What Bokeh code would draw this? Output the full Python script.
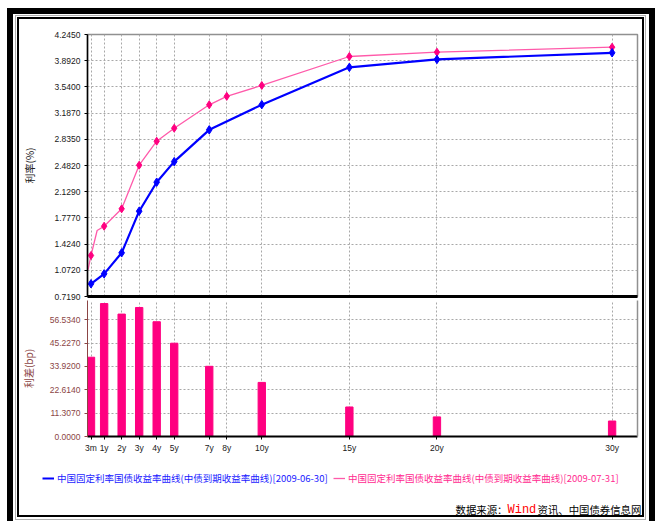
import numpy as np
from bokeh.plotting import figure
from bokeh.models import (FixedTicker, NumeralTickFormatter, LinearAxis, Range1d,
                          Label, Legend, LegendItem)
from bokeh.layouts import column
from bokeh.embed import file_html
from bokeh.resources import INLINE

# ---------------- data ----------------
tenor_labels = ["3m", "1y", "2y", "3y", "4y", "5y", "7y", "8y", "10y", "15y", "20y", "30y"]
tenor_years = [0.25, 1, 2, 3, 4, 5, 7, 8, 10, 15, 20, 30]

# 2009-06-30 curve (blue)
curve_a_x = [0.25, 1, 2, 3, 4, 5, 7, 10, 15, 20, 30]
curve_a_y = [0.890, 1.024, 1.307, 1.867, 2.257, 2.534, 2.962, 3.301, 3.803, 3.909, 3.999]

# 2009-07-31 curve (pink) - marked key tenors
curve_b_x = [0.25, 1, 2, 3, 4, 5, 7, 8, 10, 15, 20, 30]
curve_b_y = [1.271, 1.665, 1.899, 2.486, 2.809, 2.984, 3.299, 3.413, 3.559, 3.949, 4.007, 4.074]
# unmarked points
curve_b_extra_x = [0.083, 0.6]
curve_b_extra_y = [1.08, 1.607]

# spread (bp) bars
spread_x = [0.25, 1, 2, 3, 4, 5, 7, 10, 15, 20, 30]
spread_bp = [38.4, 64.4, 59.3, 62.5, 55.6, 45.2, 34.0, 26.2, 14.3, 9.5, 7.5]

rate_ticks = [0.719, 1.072, 1.424, 1.777, 2.129, 2.482, 2.835, 3.187, 3.540, 3.892, 4.245]
spread_ticks = [0.0, 11.307, 22.614, 33.92, 45.227, 56.534]

legend_a = "中国固定利率国债收益率曲线(中债到期收益率曲线)[2009-06-30]"
legend_b = "中国固定利率国债收益率曲线(中债到期收益率曲线)[2009-07-31]"
source_parts = ["数据来源：", "Wind", "资讯、中国债券信息网"]

# ---------------- styles ----------------
BLUE = "#0000FF"
PINK_LINE = "#FF5AAA"
PINK = "#FF0080"
BROWN = "#8B4545"
GRID = "#A8A8A8"
BORDER = "#909090"
TICK_FONT = "Liberation Sans"
CJK = "Noto Sans CJK SC"

X_RANGE = (0.05, 31.45)
W = 648
ML, MR = 80, 18          # left / right border around plot frames


def clear_ticks(ax):
    ax.major_tick_out = 0
    ax.major_tick_in = 0
    ax.minor_tick_out = 0
    ax.minor_tick_in = 0


def transparent(p):
    p.border_fill_alpha = 0
    p.background_fill_color = "white"


pink_pts = sorted(zip(curve_b_x + curve_b_extra_x, curve_b_y + curve_b_extra_y))
pink_line_x = [p[0] for p in pink_pts]
pink_line_y = [p[1] for p in pink_pts]

# ---------------- top panel ----------------
top = figure(width=W, height=292, x_range=Range1d(*X_RANGE), y_range=Range1d(rate_ticks[0], rate_ticks[-1]),
             output_backend="svg", toolbar_location=None, title=None,
             min_border_left=ML, min_border_right=MR, min_border_top=26, min_border_bottom=4)
transparent(top)
top.outline_line_color = BORDER
top.outline_line_width = 1.5

xa = top.xaxis[0]
xa.ticker = FixedTicker(ticks=[])
xa.major_label_standoff = 0
clear_ticks(xa)
xa.axis_line_color = "black"
xa.axis_line_width = 3

ya = top.yaxis[0]
ya.ticker = FixedTicker(ticks=rate_ticks)
ya.formatter = NumeralTickFormatter(format="0.0000")
ya.major_label_text_font = TICK_FONT
ya.major_label_text_font_size = "8.5px"
ya.major_label_text_color = "#202020"
clear_ticks(ya)
ya.major_tick_out = 3
ya.major_label_standoff = 4
ya.axis_line_color = "black"
ya.axis_line_width = 1.5
ya.axis_label = "利率(%)"
ya.axis_label_text_font = CJK
ya.axis_label_text_font_size = "10px"
ya.axis_label_text_font_style = "normal"
ya.axis_label_text_color = "#202020"
ya.axis_label_standoff = 15

top.xgrid[0].ticker = FixedTicker(ticks=tenor_years)
for g in (top.xgrid[0], top.ygrid[0]):
    g.grid_line_color = GRID
    g.grid_line_dash = "2 2"
    g.grid_line_width = 1

top.line(pink_line_x, pink_line_y, color=PINK_LINE, line_width=1.3)
top.scatter(curve_b_x, curve_b_y, marker="diamond", size=8, color=PINK)
top.line(curve_a_x, curve_a_y, color=BLUE, line_width=2.2)
top.scatter(curve_a_x, curve_a_y, marker="diamond", size=8.5, color=BLUE)

# ---------------- bottom panel ----------------
SPREAD_TOP = 65.88
bot = figure(width=W, height=155, x_range=top.x_range, y_range=Range1d(0, SPREAD_TOP),
             output_backend="svg", toolbar_location=None, title=None,
             min_border_left=ML, min_border_right=MR, min_border_top=0, min_border_bottom=19)
transparent(bot)
bot.outline_line_color = None

bx = bot.xaxis[0]
bx.ticker = FixedTicker(ticks=tenor_years)
bx.major_label_overrides = {t: l for t, l in zip(tenor_years, tenor_labels)}
bx.major_label_text_font = TICK_FONT
bx.major_label_text_font_size = "8.5px"
bx.major_label_text_color = "#202020"
clear_ticks(bx)
bx.major_tick_out = 3
bx.major_label_standoff = 3
bx.axis_line_color = "black"
bx.axis_line_width = 2

by = bot.yaxis[0]
by.ticker = FixedTicker(ticks=spread_ticks)
by.formatter = NumeralTickFormatter(format="0.0000")
by.major_label_text_font = TICK_FONT
by.major_label_text_font_size = "8.5px"
by.major_label_text_color = BROWN
by.major_tick_line_color = BROWN
clear_ticks(by)
by.major_tick_out = 3
by.major_label_standoff = 4
by.axis_line_color = BROWN
by.axis_line_width = 1
by.axis_label = "利差(bp)"
by.axis_label_text_font = CJK
by.axis_label_text_font_size = "10px"
by.axis_label_text_font_style = "normal"
by.axis_label_text_color = BROWN
by.axis_label_standoff = 11

ra = LinearAxis(ticker=FixedTicker(ticks=[]), major_label_standoff=0,
                axis_line_color=BORDER, axis_line_width=1.5)
clear_ticks(ra)
bot.add_layout(ra, "right")

for g in (bot.xgrid[0], bot.ygrid[0]):
    g.grid_line_color = GRID
    g.grid_line_dash = "2 2"
    g.grid_line_width = 1

bot.vbar(x=spread_x, top=spread_bp, width=0.42, color=PINK)

# ---------------- footer: legend + source ----------------
foot = figure(width=W, height=66, x_range=Range1d(0, 1), y_range=Range1d(0, 1),
              output_backend="svg", toolbar_location=None, title=None,
              x_axis_type=None, y_axis_type=None,
              min_border_left=0, min_border_right=0, min_border_top=0, min_border_bottom=0)
FOOT_LEFT = 0
try:
    foot.frame_align = False      # footer frame spans the whole canvas
except Exception:
    foot.min_border_left = ML
    foot.min_border_right = MR
    FOOT_LEFT = ML
foot.border_fill_alpha = 0
foot.background_fill_alpha = 0
foot.outline_line_color = None
foot.xgrid.visible = False
foot.ygrid.visible = False

nan2 = np.array([np.nan, np.nan])
sw_a = foot.line(x=nan2, y=nan2, color=BLUE, line_width=2)
sw_b = foot.line(x=nan2, y=nan2, color=PINK_LINE, line_width=1.3)


def make_legend(label, rend, loc, color):
    return Legend(items=[LegendItem(label=label, renderers=[rend])], location=loc,
                  orientation="horizontal", glyph_width=12, glyph_height=12, label_height=12,
                  label_standoff=3, padding=0, margin=0, spacing=0,
                  border_line_color=None, background_fill_alpha=0,
                  label_text_font=CJK, label_text_font_size="9.5px", label_text_color=color)


# positions relative to the footer frame (page x 7 is the canvas' left edge)
foot.add_layout(make_legend(legend_a, sw_a, (35 - FOOT_LEFT, 36), "#1A1AFF"), "center")
foot.add_layout(make_legend(legend_b, sw_b, (326 - FOOT_LEFT, 36), "#FF2A90"), "center")

src_x = [448, 500, 530]
src_colors = ["black", "#FF0000", "black"]
src_fonts = [CJK, "Liberation Mono", CJK]
src_sizes = ["10.4px", "12px", "10.4px"]
for txt, x, c, f, s in zip(source_parts, src_x, src_colors, src_fonts, src_sizes):
    foot.add_layout(Label(x=x - FOOT_LEFT, y=12, x_units="screen", y_units="screen", text=txt,
                          text_color=c, text_font=f, text_font_size=s, text_baseline="middle"))

# ---------------- frame (inset rings painted behind transparent canvases) ----------------
rings = [  # colour, left, top, right, bottom depth in px
    ("black", 6, 6, 6, 0),
    ("white", 8, 7, 9, 1),
    ("#B0B0B0", 9, 8, 10, 2),
    ("white", 10, 9, 11, 4),
    ("black", 12, 11, 13, 6),
]
shadows = []
for c, l, t, r, b in rings:
    if l:
        shadows.append(f"inset {l}px 0 0 0 {c}")
    if t:
        shadows.append(f"inset 0 {t}px 0 0 {c}")
    if r:
        shadows.append(f"inset -{r}px 0 0 0 {c}")
    if b:
        shadows.append(f"inset 0 -{b}px 0 0 {c}")

page = column(top, bot, foot, spacing=0,
              styles={"background-color": "white", "margin": "8px 0 0 7px",
                      "box-shadow": ", ".join(shadows)})

open("out.html", "w").write(file_html(page, INLINE))
